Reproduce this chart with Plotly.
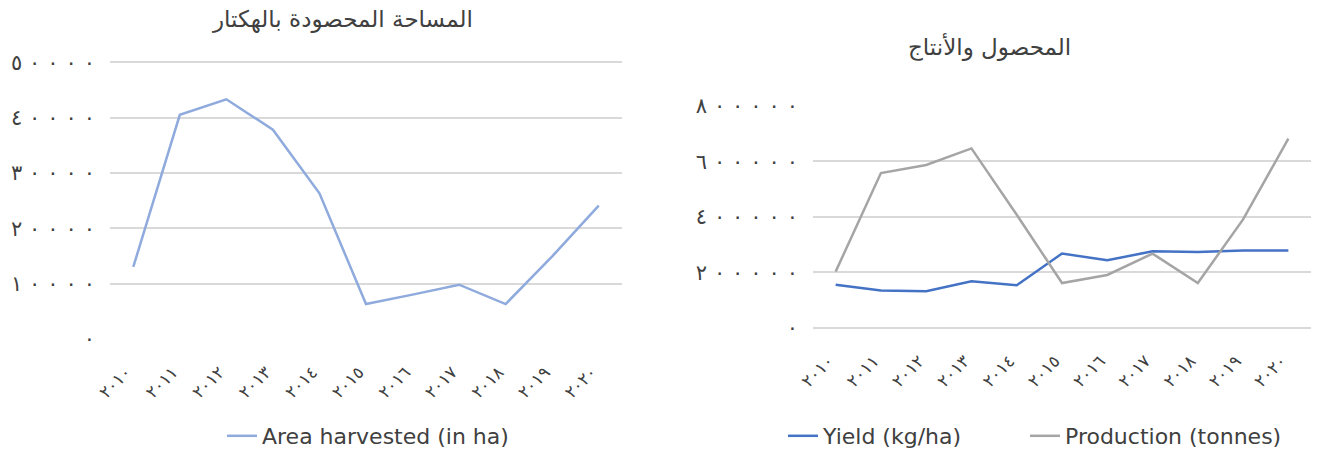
import plotly.graph_objects as go

# Season years and the three FAO-style series
years = [2010, 2011, 2012, 2013, 2014, 2015, 2016, 2017, 2018, 2019, 2020]
area_harvested = [13000, 40500, 43300, 37800, 26300, 6300, 8000, 9800, 6300, 14900, 24100]
yield_kg_ha = [156000, 135000, 132500, 168000, 154000, 268000, 244000, 276000, 273500, 279500, 279500]
production_t = [203000, 558000, 587000, 647000, 408000, 162000, 191000, 268000, 162000, 391000, 682000]

area_ticks = [0, 10000, 20000, 30000, 40000, 50000]
prod_ticks = [0, 200000, 400000, 600000, 800000]

title_area = "المساحة المحصودة بالهكتار"
title_prod = "المحصول والأنتاج"

W, H = 1317, 457
AR_DIGITS = str.maketrans("0123456789", "٠١٢٣٤٥٦٧٨٩")


def ar_num(v, sep=""):
    # Arabic-Indic digits, forced left-to-right so spaced digits keep their order
    s = sep.join(str(v).translate(AR_DIGITS))
    return "\u202d" + s + "\u202c" if sep else s


def ydomain(top_px, bottom_px, lo, hi, pad):
    # pixel rows of the range ends -> paper domain, widened by `pad` data units
    per = (bottom_px - top_px) / (hi - lo)
    return [1 - (bottom_px + pad * per) / H, 1 - (top_px - pad * per) / H]


year_labels = [ar_num(y) for y in years]
TXT = "#404040"
GRID = "#d9d9d9"
FONT = "DejaVu Sans"

fig = go.Figure()
fig.add_trace(go.Scatter(x=years, y=area_harvested, mode="lines", name="Area harvested (in ha)",
                         line=dict(color="#8faadc", width=2.5), xaxis="x", yaxis="y", legend="legend"))
fig.add_trace(go.Scatter(x=years, y=yield_kg_ha, mode="lines", name="Yield (kg/ha)",
                         line=dict(color="#4472c4", width=2.5), xaxis="x2", yaxis="y2", legend="legend2"))
fig.add_trace(go.Scatter(x=years, y=production_t, mode="lines", name="Production (tonnes)",
                         line=dict(color="#a5a5a5", width=2.5), xaxis="x2", yaxis="y2", legend="legend3"))

xcommon = dict(tickvals=years, ticktext=year_labels, range=[years[0] - 0.5, years[-1] + 0.5],
               tickangle=-45, showgrid=False, zeroline=False, showline=False, ticks="",
               automargin=False,
               tickfont=dict(family=FONT, size=17, color=TXT),
               ticklabelstandoff=18, ticklabelshift=-7)
ycommon = dict(showgrid=True, gridcolor=GRID, gridwidth=1.5, showline=False, ticks="",
               automargin=False,
               tickfont=dict(family=FONT, size=21, color=TXT), ticklabelstandoff=14)

pad_a, pad_p = 200, 3200
leg = dict(orientation="h", xanchor="left", yanchor="middle", y=1 - 446 / H,
           font=dict(family=FONT, size=22, color=TXT), bgcolor="rgba(0,0,0,0)")

fig.update_layout(
    width=W, height=H,
    margin=dict(l=0, r=0, t=0, b=0),
    paper_bgcolor="white", plot_bgcolor="white",
    showlegend=True,
    xaxis=dict(domain=[110 / W, 622 / W], anchor="y", **xcommon),
    yaxis=dict(domain=ydomain(63.6, 346.5, 0, 50000, pad_a), anchor="x",
               range=[-pad_a, 50000 + pad_a],
               tickvals=area_ticks, ticktext=[ar_num(v, "\u2004") for v in area_ticks],
               zeroline=True, zerolinecolor="white", zerolinewidth=3, **ycommon),
    xaxis2=dict(domain=[813 / W, 1311 / W], anchor="y2", **xcommon),
    yaxis2=dict(domain=ydomain(108.3, 335.3, 0, 800000, pad_p), anchor="x2",
                range=[-pad_p, 800000 + pad_p],
                tickvals=prod_ticks, ticktext=[ar_num(v, "\u2004") for v in prod_ticks],
                zeroline=True, zerolinecolor=GRID, zerolinewidth=1.5, **ycommon),
    legend=dict(x=222 / W, **leg),
    legend2=dict(x=783 / W, **leg),
    legend3=dict(x=1025 / W, **leg),
    annotations=[
        dict(text=title_area, x=342 / W, y=1 - 20 / H, xref="paper", yref="paper",
             xanchor="center", yanchor="middle", showarrow=False,
             font=dict(family=FONT, size=23, color=TXT)),
        dict(text=title_prod, x=989 / W, y=1 - 48 / H, xref="paper", yref="paper",
             xanchor="center", yanchor="middle", showarrow=False,
             font=dict(family=FONT, size=23, color=TXT)),
    ],
)

fig.write_html("out.html")
